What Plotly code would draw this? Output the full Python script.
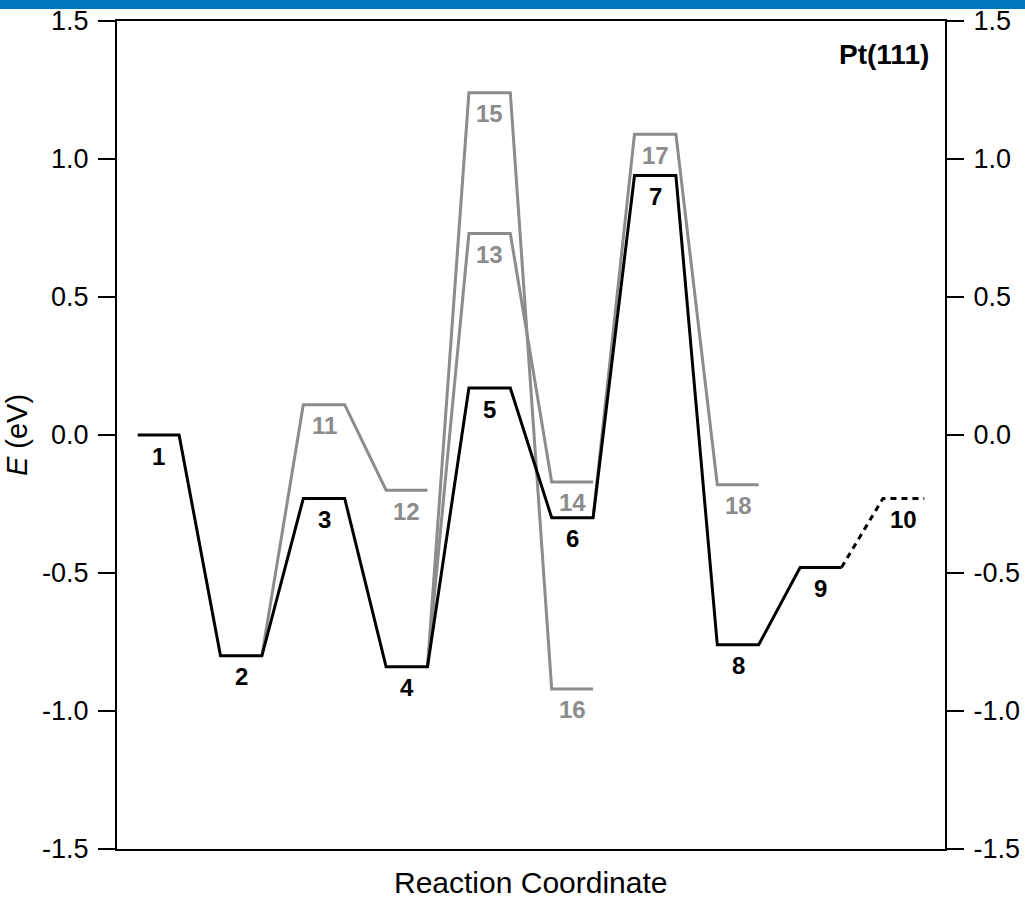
import plotly.graph_objects as go

# ---------------- data ----------------
main_pos = [1, 2, 3, 4, 5, 6, 7, 8, 9]
main_E = [0.00, -0.80, -0.23, -0.84, 0.17, -0.30, 0.94, -0.76, -0.48]
main_labels = ["1", "2", "3", "4", "5", "6", "7", "8", "9"]

dash_pos = [9, 10]
dash_E = [-0.48, -0.23]
dash_labels = [None, "10"]

# grey alternative branches (first entry = starting level of the branch)
branch_a_pos = [2, 3, 4]
branch_a_E = [-0.80, 0.11, -0.20]
branch_a_labels = [None, "11", "12"]

branch_b_pos = [4, 5, 6]
branch_b_E = [-0.84, 0.73, -0.17]
branch_b_labels = [None, "13", "14"]

branch_c_pos = [4, 5, 6]
branch_c_E = [-0.84, 1.24, -0.92]
branch_c_labels = [None, "15", "16"]

branch_d_pos = [6, 7, 8]
branch_d_E = [-0.30, 1.09, -0.18]
branch_d_labels = [None, "17", "18"]

y_tickvals = [1.5, 1.0, 0.5, 0.0, -0.5, -1.0, -1.5]
y_ticktext = ["1.5", "1.0", "0.5", "0.0", "-0.5", "-1.0", "-1.5"]

HALF = 0.25
BLACK = "#000000"
GREY = "#8c8c8c"
FONT = "Liberation Sans, Arial, sans-serif"


def path(pos, E, first_partial=False):
    xs, ys = [], []
    for i, (p, e) in enumerate(zip(pos, E)):
        if i == 0 and first_partial:
            xs += [p + HALF]
            ys += [e]
        else:
            xs += [p - HALF, p + HALF]
            ys += [e, e]
    return xs, ys


fig = go.Figure()
annotations = []


def add_path(pos, E, labels, color, first_partial, dash="solid"):
    xs, ys = path(pos, E, first_partial)
    fig.add_trace(go.Scatter(x=xs, y=ys, mode="lines",
                             line=dict(color=color, width=3, dash=dash),
                             showlegend=False, hoverinfo="skip"))
    for p, e, lab in zip(pos, E, labels):
        if lab:
            annotations.append(dict(x=p, y=e, xref="x", yref="y", text=f"<b>{lab}</b>",
                                    showarrow=False, yshift=-21, yanchor="middle",
                                    font=dict(family=FONT, size=24, color=color)))


add_path(branch_a_pos, branch_a_E, branch_a_labels, GREY, True)
add_path(branch_b_pos, branch_b_E, branch_b_labels, GREY, True)
add_path(branch_c_pos, branch_c_E, branch_c_labels, GREY, True)
add_path(branch_d_pos, branch_d_E, branch_d_labels, GREY, True)
add_path(main_pos, main_E, main_labels, BLACK, False)
add_path(dash_pos, dash_E, dash_labels, BLACK, True, dash="6px,5px")

# invisible trace to activate right axis
fig.add_trace(go.Scatter(x=[None], y=[None], yaxis="y2", showlegend=False, hoverinfo="skip"))

annotations.append(dict(x=0.983, y=0.959, xref="paper", yref="paper", text="<b>Pt(111)</b>",
                        showarrow=False, xanchor="right", yanchor="middle",
                        font=dict(family=FONT, size=28, color="#000000")))
# x-axis title
annotations.append(dict(x=0.5, y=-0.0399, xref="paper", yref="paper", text="Reaction Coordinate",
                        showarrow=False, xanchor="center", yanchor="middle",
                        font=dict(family=FONT, size=30, color="#000000")))

fig.update_layout(
    width=1025, height=899,
    margin=dict(l=117, r=80, t=21, b=50, autoexpand=False),
    paper_bgcolor="white", plot_bgcolor="white",
    font=dict(family=FONT, color="#000000"),
    xaxis=dict(range=[0.5, 10.5], showgrid=False, zeroline=False, showticklabels=False,
               ticks="", showline=True, mirror=True, linecolor="#000000", linewidth=2),
    yaxis=dict(range=[-1.5, 1.5], tickvals=y_tickvals, ticktext=y_ticktext,
               showgrid=False, zeroline=False, ticks="outside", ticklen=17, tickwidth=2,
               tickcolor="#000000", showline=True, linecolor="#000000", linewidth=2,
               tickfont=dict(size=27, family=FONT), ticklabelstandoff=4,
               title=dict(text="<i>E</i> (eV)", font=dict(size=29, family=FONT), standoff=6)),
    yaxis2=dict(range=[-1.5, 1.5], tickvals=y_tickvals, ticktext=y_ticktext, overlaying="y",
                side="right", showgrid=False, zeroline=False, ticks="outside", ticklen=17,
                tickwidth=2, tickcolor="#000000", showline=True, linecolor="#000000",
                linewidth=2, tickfont=dict(size=27, family=FONT), ticklabelstandoff=4),
    annotations=annotations,
    shapes=[dict(type="rect", xref="paper", yref="paper", x0=-0.2, x1=1.2,
                 y0=1 + 12 / 828, y1=1 + 30 / 828, fillcolor="#0077c0", line=dict(width=0),
                 layer="above")],
)

fig.write_html("out.html", config={"displayModeBar": False},
               post_script="document.body.style.margin='0';document.body.style.overflow='hidden';")
